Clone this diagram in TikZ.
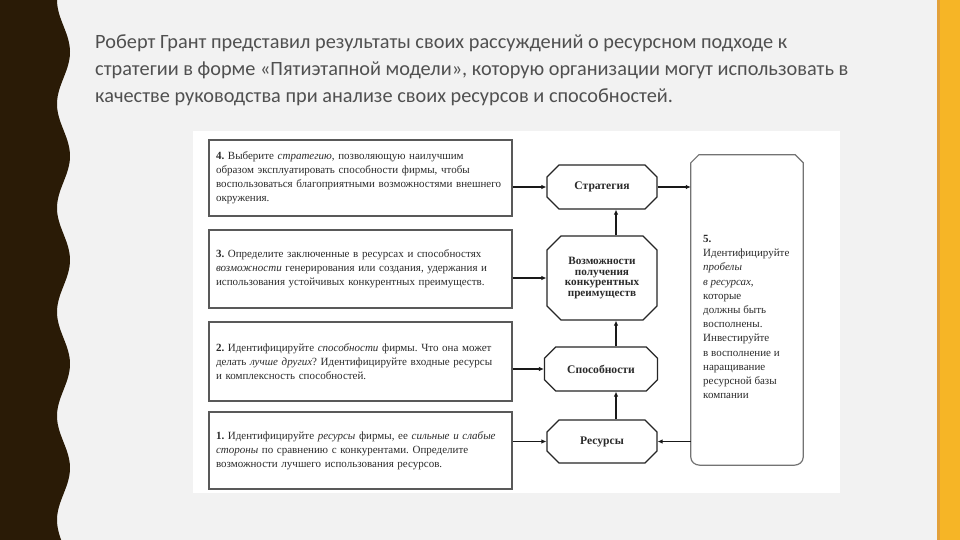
\documentclass[tikz,border=0pt]{standalone}
\usepackage{fontspec}
\setmainfont{Liberation Serif}
\newfontfamily\titlefont{Carlito}
\usetikzlibrary{arrows.meta,shapes.misc}
\definecolor{bgc}{HTML}{F2F2F2}
\definecolor{brownc}{HTML}{2A1B06}
\definecolor{yellowc}{HTML}{F6B526}
\definecolor{yellowd}{HTML}{E3A13A}
\definecolor{titlec}{HTML}{505050}
\definecolor{inkc}{HTML}{2B2B2B}
\tikzset{
  titleline/.style={anchor=base west, inner sep=0pt, font=\titlefont\fontsize{20.3}{24}\selectfont, text=titlec},
  stagebox/.style={draw=black!65, line width=1.1pt, fill=white, rectangle, minimum width=303pt,
     text width=289pt, inner xsep=7pt, inner ysep=0pt, align=left, text=inkc,
     font=\frenchspacing\fontsize{11}{14}\selectfont},
  octo/.style={chamfered rectangle, chamfered rectangle xsep=7pt, chamfered rectangle ysep=7pt,
     draw=black!85, line width=1.2pt, fill=white, inner sep=0pt, align=center, text=inkc,
     font=\bfseries\fontsize{11.6}{11}\selectfont},
  bigbox/.style={rectangle, inner sep=0pt, minimum width=112pt, minimum height=310pt},
  bigline/.style={draw=black!55, line width=1.2pt, fill=white},
  bigtext/.style={anchor=north west, inner sep=0pt, align=left, text=inkc, font=\fontsize{11}{14.2}\selectfont},
  conn/.style={draw=black!90, line width=1.1pt, -{Latex[length=5pt,width=4.5pt]}},
}
\begin{document}
\begin{tikzpicture}[x=1pt,y=-1pt]
\useasboundingbox (0,0) rectangle (960,540);
\fill[bgc] (0,0) rectangle (960,540);
% left wavy strip
\fill[brownc] (0,0) -- plot[domain=0:540, samples=220] ({63.5+6.5*cos((\x-52)/104*360)}, \x) -- (0,540) -- cycle;
% right yellow strip
\fill[yellowc] (937,0) rectangle (960,540);
\fill[yellowd] (937,0) rectangle (939.5,540);
% title
\node[titleline] (t1) at (95,49) {Роберт Грант представил результаты своих рассуждений о ресурсном подходе к};
\node[titleline] (t2) at (95,76) {стратегии в форме «Пятиэтапной модели», которую организации могут использовать в};
\node[titleline] (t3) at (95,103) {качестве руководства при анализе своих ресурсов и способностей.};
% diagram background
\fill[white] (193,131) rectangle (840,493);
% left boxes
\node[stagebox, minimum height=76pt] (b4) at (360.5,178) {\textbf{4.} Выберите \textit{стратегию}, позволяющую наилучшим\\образом эксплуатировать способности фирмы, чтобы\\воспользоваться благоприятными возможностями внешнего\\окружения.};
\node[stagebox, minimum height=78pt] (b3) at (360.5,269) {\textbf{3.} Определите заключенные в ресурсах и способностях\\\textit{возможности} генерирования или создания, удержания и\\использования устойчивых конкурентных преимуществ.};
\node[stagebox, minimum height=79pt] (b2) at (360.5,361.5) {\textbf{2.} Идентифицируйте \textit{способности} фирмы. Что она может\\делать \textit{лучше других}? Идентифицируйте входные ресурсы\\и комплексность способностей.};
\node[stagebox, minimum height=77pt] (b1) at (360.5,450.5) {\textbf{1.} Идентифицируйте \textit{ресурсы} фирмы, ее \textit{сильные и слабые}\\\textit{стороны} по сравнению с конкурентами. Определите\\возможности лучшего использования ресурсов.};
% central octagons
\node[octo, minimum width=110pt, minimum height=44pt] (strat) at (602,187) {Стратегия};
\node[octo, minimum width=110pt, minimum height=84pt, font=\bfseries\fontsize{11.2}{10.8}\selectfont] (vozm) at (602,278) {Возможности\\получения\\конкурентных\\преимуществ};
\node[octo, minimum width=113pt, minimum height=44pt] (spos) at (601,369) {Способности};
\node[octo, minimum width=110pt, minimum height=43pt] (res) at (602,441.5) {Ресурсы};
% right box
\node[bigbox] (b5) at (747,310) {};
\draw[bigline] ([xshift=8pt]b5.north west) -- ([xshift=-8pt]b5.north east)
   -- ([yshift=-8pt]b5.north east)
   -- ([yshift=8pt]b5.south east) to[out=-90,in=0] ([xshift=-9pt]b5.south east)
   -- ([xshift=9pt]b5.south west) to[out=180,in=-90] ([yshift=8pt]b5.south west)
   -- ([yshift=-8pt]b5.north west) -- cycle;
\node[bigtext] (b5t) at (703,235) {\textbf{5.}\\Идентифицируйте\\\textit{пробелы}\\\textit{в ресурсах},\\которые\\должны быть\\восполнены.\\Инвестируйте\\в восполнение и\\наращивание\\ресурсной базы\\компании};
% connectors
\draw[conn] (b4.east |- strat.west) -- (strat.west);
\draw[conn] (b3.east |- vozm.west) -- (vozm.west);
\draw[conn] (b2.east |- spos.west) -- (spos.west);
\draw[conn] (b1.east |- res.west) -- (res.west);
\draw[conn] (strat.east) -- (strat.east -| b5.west);
\draw[conn] (b5.west |- res.east) -- (res.east);
\draw[conn] ([xshift=14pt]res.north) -- ([xshift=15pt]spos.south);
\draw[conn] ([xshift=15pt]spos.north) -- ([xshift=14pt]vozm.south);
\draw[conn] ([xshift=14pt]vozm.north) -- ([xshift=14pt]strat.south);
\end{tikzpicture}
\end{document}
